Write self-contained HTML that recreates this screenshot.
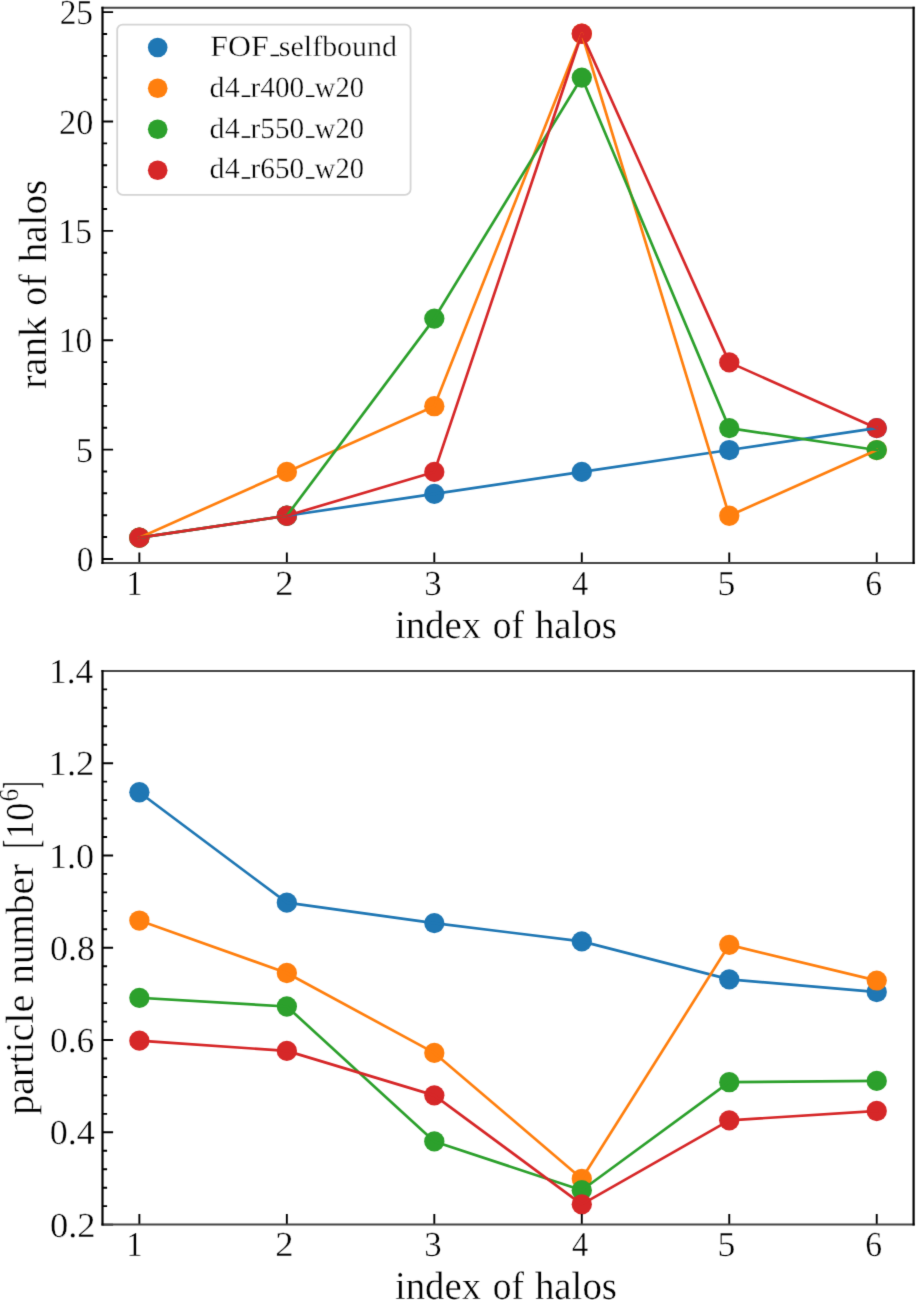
<!DOCTYPE html>
<html><head><meta charset="utf-8"><title>halos</title><style>
html,body{margin:0;padding:0;background:#fff;overflow:hidden;}
svg{display:block;}
text{font-family:"Liberation Serif", serif;font-kerning:none;text-rendering:geometricPrecision;fill:#000;stroke:#fff;stroke-width:0.35px;}
</style></head><body>
<svg width="916" height="1300" viewBox="0 0 916 1300">
<defs><filter id="soft" x="0" y="0" width="916" height="1300" filterUnits="userSpaceOnUse" color-interpolation-filters="sRGB"><feConvolveMatrix order="3" kernelMatrix="0.01134 0.08382 0.01134 0.08382 0.61935 0.08382 0.01134 0.08382 0.01134" edgeMode="duplicate" preserveAlpha="true"/></filter></defs>
<g filter="url(#soft)">
<rect width="916" height="1300" fill="#fff"/>
<circle cx="139.37" cy="537.67" r="10.15" fill="#1f77b4"/>
<circle cx="286.84" cy="515.76" r="10.15" fill="#1f77b4"/>
<circle cx="434.31" cy="493.85" r="10.15" fill="#1f77b4"/>
<circle cx="581.79" cy="471.94" r="10.15" fill="#1f77b4"/>
<circle cx="729.26" cy="450.03" r="10.15" fill="#1f77b4"/>
<circle cx="876.73" cy="428.12" r="10.15" fill="#1f77b4"/>
<circle cx="139.37" cy="537.67" r="10.15" fill="#ff7f0e"/>
<circle cx="286.84" cy="471.94" r="10.15" fill="#ff7f0e"/>
<circle cx="434.31" cy="406.21" r="10.15" fill="#ff7f0e"/>
<circle cx="581.79" cy="33.74" r="10.15" fill="#ff7f0e"/>
<circle cx="729.26" cy="515.76" r="10.15" fill="#ff7f0e"/>
<circle cx="876.73" cy="450.03" r="10.15" fill="#ff7f0e"/>
<circle cx="139.37" cy="537.67" r="10.15" fill="#2ca02c"/>
<circle cx="286.84" cy="515.76" r="10.15" fill="#2ca02c"/>
<circle cx="434.31" cy="318.57" r="10.15" fill="#2ca02c"/>
<circle cx="581.79" cy="77.56" r="10.15" fill="#2ca02c"/>
<circle cx="729.26" cy="428.12" r="10.15" fill="#2ca02c"/>
<circle cx="876.73" cy="450.03" r="10.15" fill="#2ca02c"/>
<circle cx="139.37" cy="537.67" r="10.15" fill="#d62728"/>
<circle cx="286.84" cy="515.76" r="10.15" fill="#d62728"/>
<circle cx="434.31" cy="471.94" r="10.15" fill="#d62728"/>
<circle cx="581.79" cy="33.74" r="10.15" fill="#d62728"/>
<circle cx="729.26" cy="362.39" r="10.15" fill="#d62728"/>
<circle cx="876.73" cy="428.12" r="10.15" fill="#d62728"/>
<polyline points="139.37,537.67 286.84,515.76 434.31,493.85 581.79,471.94 729.26,450.03 876.73,428.12" fill="none" stroke="#1f77b4" stroke-width="2.7" stroke-linejoin="round" stroke-linecap="square"/>
<polyline points="139.37,537.67 286.84,471.94 434.31,406.21 581.79,33.74 729.26,515.76 876.73,450.03" fill="none" stroke="#ff7f0e" stroke-width="2.7" stroke-linejoin="round" stroke-linecap="square"/>
<polyline points="139.37,537.67 286.84,515.76 434.31,318.57 581.79,77.56 729.26,428.12 876.73,450.03" fill="none" stroke="#2ca02c" stroke-width="2.7" stroke-linejoin="round" stroke-linecap="square"/>
<polyline points="139.37,537.67 286.84,515.76 434.31,471.94 581.79,33.74 729.26,362.39 876.73,428.12" fill="none" stroke="#d62728" stroke-width="2.7" stroke-linejoin="round" stroke-linecap="square"/>
<path d="M102.50 558.94H113.10 M102.50 449.58H113.10 M102.50 340.21H113.10 M102.50 230.85H113.10 M102.50 121.48H113.10 M102.50 12.12H113.10 M102.50 537.07H107.10 M102.50 515.19H107.10 M102.50 493.32H107.10 M102.50 471.45H107.10 M102.50 427.70H107.10 M102.50 405.83H107.10 M102.50 383.96H107.10 M102.50 362.08H107.10 M102.50 318.34H107.10 M102.50 296.46H107.10 M102.50 274.59H107.10 M102.50 252.72H107.10 M102.50 208.97H107.10 M102.50 187.10H107.10 M102.50 165.23H107.10 M102.50 143.35H107.10 M102.50 99.61H107.10 M102.50 77.73H107.10 M102.50 55.86H107.10 M102.50 33.99H107.10 M139.37 563.00V552.40 M286.84 563.00V552.40 M434.31 563.00V552.40 M581.79 563.00V552.40 M729.26 563.00V552.40 M876.73 563.00V552.40" stroke="#000" stroke-width="1.9" fill="none"/>
<path d="M101.40 7.65H914.70M101.40 563.00H914.70" stroke="#444" stroke-width="2.0" fill="none"/>
<path d="M102.50 6.65V564.00M913.60 6.65V564.00" stroke="#000" stroke-width="2.2" fill="none"/>
<circle cx="139.37" cy="792.25" r="10.15" fill="#1f77b4"/>
<circle cx="286.84" cy="902.67" r="10.15" fill="#1f77b4"/>
<circle cx="434.31" cy="923.06" r="10.15" fill="#1f77b4"/>
<circle cx="581.79" cy="941.43" r="10.15" fill="#1f77b4"/>
<circle cx="729.26" cy="979.36" r="10.15" fill="#1f77b4"/>
<circle cx="876.73" cy="992.00" r="10.15" fill="#1f77b4"/>
<circle cx="139.37" cy="920.53" r="10.15" fill="#ff7f0e"/>
<circle cx="286.84" cy="972.99" r="10.15" fill="#ff7f0e"/>
<circle cx="434.31" cy="1052.91" r="10.15" fill="#ff7f0e"/>
<circle cx="581.79" cy="1178.78" r="10.15" fill="#ff7f0e"/>
<circle cx="729.26" cy="944.84" r="10.15" fill="#ff7f0e"/>
<circle cx="876.73" cy="980.60" r="10.15" fill="#ff7f0e"/>
<circle cx="139.37" cy="997.81" r="10.15" fill="#2ca02c"/>
<circle cx="286.84" cy="1006.49" r="10.15" fill="#2ca02c"/>
<circle cx="434.31" cy="1141.41" r="10.15" fill="#2ca02c"/>
<circle cx="581.79" cy="1190.27" r="10.15" fill="#2ca02c"/>
<circle cx="729.26" cy="1082.21" r="10.15" fill="#2ca02c"/>
<circle cx="876.73" cy="1080.91" r="10.15" fill="#2ca02c"/>
<circle cx="139.37" cy="1040.68" r="10.15" fill="#d62728"/>
<circle cx="286.84" cy="1050.88" r="10.15" fill="#d62728"/>
<circle cx="434.31" cy="1095.36" r="10.15" fill="#d62728"/>
<circle cx="581.79" cy="1204.30" r="10.15" fill="#d62728"/>
<circle cx="729.26" cy="1120.32" r="10.15" fill="#d62728"/>
<circle cx="876.73" cy="1111.00" r="10.15" fill="#d62728"/>
<polyline points="139.37,792.25 286.84,902.67 434.31,923.06 581.79,941.43 729.26,979.36 876.73,992.00" fill="none" stroke="#1f77b4" stroke-width="2.7" stroke-linejoin="round" stroke-linecap="square"/>
<polyline points="139.37,920.53 286.84,972.99 434.31,1052.91 581.79,1178.78 729.26,944.84 876.73,980.60" fill="none" stroke="#ff7f0e" stroke-width="2.7" stroke-linejoin="round" stroke-linecap="square"/>
<polyline points="139.37,997.81 286.84,1006.49 434.31,1141.41 581.79,1190.27 729.26,1082.21 876.73,1080.91" fill="none" stroke="#2ca02c" stroke-width="2.7" stroke-linejoin="round" stroke-linecap="square"/>
<polyline points="139.37,1040.68 286.84,1050.88 434.31,1095.36 581.79,1204.30 729.26,1120.32 876.73,1111.00" fill="none" stroke="#d62728" stroke-width="2.7" stroke-linejoin="round" stroke-linecap="square"/>
<path d="M102.50 1224.60H113.10 M102.50 1132.32H113.10 M102.50 1040.03H113.10 M102.50 947.75H113.10 M102.50 855.47H113.10 M102.50 763.18H113.10 M102.50 670.90H113.10 M102.50 1206.14H107.10 M102.50 1187.69H107.10 M102.50 1169.23H107.10 M102.50 1150.77H107.10 M102.50 1113.86H107.10 M102.50 1095.40H107.10 M102.50 1076.95H107.10 M102.50 1058.49H107.10 M102.50 1021.58H107.10 M102.50 1003.12H107.10 M102.50 984.66H107.10 M102.50 966.21H107.10 M102.50 929.29H107.10 M102.50 910.84H107.10 M102.50 892.38H107.10 M102.50 873.92H107.10 M102.50 837.01H107.10 M102.50 818.55H107.10 M102.50 800.10H107.10 M102.50 781.64H107.10 M102.50 744.73H107.10 M102.50 726.27H107.10 M102.50 707.81H107.10 M102.50 689.36H107.10 M139.37 1224.60V1214.00 M286.84 1224.60V1214.00 M434.31 1224.60V1214.00 M581.79 1224.60V1214.00 M729.26 1224.60V1214.00 M876.73 1224.60V1214.00" stroke="#000" stroke-width="1.9" fill="none"/>
<path d="M101.40 670.90H914.70M101.40 1224.60H914.70" stroke="#444" stroke-width="2.0" fill="none"/>
<path d="M102.50 669.90V1225.60M913.60 669.90V1225.60" stroke="#000" stroke-width="2.2" fill="none"/>
<rect x="117.2" y="24.6" width="293.4" height="170.2" rx="5.5" ry="5.5" fill="#fff" fill-opacity="0.8" stroke="#d4d4d4" stroke-width="1.8"/>
<circle cx="157.7" cy="47.5" r="9.8" fill="#1f77b4"/>
<circle cx="157.7" cy="88.3" r="9.8" fill="#ff7f0e"/>
<circle cx="157.7" cy="129.2" r="9.8" fill="#2ca02c"/>
<circle cx="157.7" cy="170.2" r="9.8" fill="#d62728"/>
<rect x="270.60" y="54.70" width="8.50" height="1.5" fill="#000"/>
<rect x="241.70" y="95.50" width="8.60" height="1.5" fill="#000"/>
<rect x="241.70" y="136.30" width="8.60" height="1.5" fill="#000"/>
<rect x="241.70" y="177.20" width="8.60" height="1.5" fill="#000"/>
<rect x="305.90" y="95.50" width="8.50" height="1.5" fill="#000"/>
<rect x="305.90" y="136.30" width="8.50" height="1.5" fill="#000"/>
<rect x="305.90" y="177.20" width="8.50" height="1.5" fill="#000"/>
<text transform="translate(76.82,571.04) scale(0.9573,1.0000)" font-size="35.0">0</text>
<text transform="translate(76.12,461.68) scale(0.9717,1.0000)" font-size="35.0">5</text>
<text transform="translate(58.65,352.31) scale(0.9578,1.0000)" font-size="35.0">10</text>
<text transform="translate(58.35,242.95) scale(0.9589,1.0000)" font-size="35.0">15</text>
<text transform="translate(59.09,133.58) scale(0.9804,1.0000)" font-size="35.0">20</text>
<text transform="translate(59.63,24.22) scale(0.9565,1.0000)" font-size="35.0">25</text>
<text transform="translate(49.91,1236.70) scale(1.0448,1.0000)" font-size="35.0">0.2</text>
<text transform="translate(49.72,1144.42) scale(1.0318,1.0000)" font-size="35.0">0.4</text>
<text transform="translate(49.95,1052.13) scale(1.0151,1.0000)" font-size="35.0">0.6</text>
<text transform="translate(49.93,959.85) scale(1.0296,1.0000)" font-size="35.0">0.8</text>
<text transform="translate(48.92,867.57) scale(1.0345,1.0000)" font-size="35.0">1.0</text>
<text transform="translate(48.58,775.28) scale(1.0479,1.0000)" font-size="35.0">1.2</text>
<text transform="translate(49.10,683.00) scale(1.0093,1.0000)" font-size="35.0">1.4</text>
<text transform="translate(126.33,594.70) scale(0.9333,1.0000)" font-size="35.0">1</text>
<text transform="translate(275.19,594.70) scale(1.0477,1.0000)" font-size="35.0">2</text>
<text transform="translate(424.13,594.70) scale(0.9960,1.0000)" font-size="35.0">3</text>
<text transform="translate(572.07,594.70) scale(0.9281,1.0000)" font-size="35.0">4</text>
<text transform="translate(717.62,594.70) scale(1.0213,1.0000)" font-size="35.0">5</text>
<text transform="translate(865.15,594.70) scale(0.9630,1.0000)" font-size="35.0">6</text>
<text transform="translate(126.33,1256.30) scale(0.9333,1.0000)" font-size="35.0">1</text>
<text transform="translate(275.19,1256.30) scale(1.0477,1.0000)" font-size="35.0">2</text>
<text transform="translate(424.13,1256.30) scale(0.9960,1.0000)" font-size="35.0">3</text>
<text transform="translate(572.07,1256.30) scale(0.9281,1.0000)" font-size="35.0">4</text>
<text transform="translate(717.62,1256.30) scale(1.0213,1.0000)" font-size="35.0">5</text>
<text transform="translate(865.15,1256.30) scale(0.9630,1.0000)" font-size="35.0">6</text>
<text transform="translate(394.88,637.60) scale(0.9833,1.0000)" font-size="39.5">index</text>
<text transform="translate(492.67,637.60) scale(0.9491,1.0000)" font-size="39.5">of</text>
<text transform="translate(534.92,637.60) scale(0.9845,1.0000)" font-size="39.5">halos</text>
<text transform="translate(394.88,1299.20) scale(0.9833,1.0000)" font-size="39.5">index</text>
<text transform="translate(492.67,1299.20) scale(0.9491,1.0000)" font-size="39.5">of</text>
<text transform="translate(534.92,1299.20) scale(0.9845,1.0000)" font-size="39.5">halos</text>
<text transform="rotate(-90) translate(-389.12,46.40) scale(1.0347,1.0000)" font-size="39.5">rank</text>
<text transform="rotate(-90) translate(-305.64,46.40) scale(0.9554,1.0000)" font-size="39.5">of</text>
<text transform="rotate(-90) translate(-262.28,46.40) scale(0.9894,1.0000)" font-size="39.5">halos</text>
<text transform="rotate(-90) translate(-1115.05,32.60) scale(1.0153,1.0000)" font-size="39.5">particle</text>
<text transform="rotate(-90) translate(-983.70,32.60) scale(0.9916,1.0000)" font-size="39.5">number</text>
<text transform="rotate(-90) translate(-838.99,32.60) scale(0.9182,1.0000)" font-size="39.5">10</text>
<text transform="rotate(-90) translate(-801.40,18.00) scale(0.9277,1.0000)" font-size="27.5">6</text>
<text transform="rotate(-90) translate(-848.43,37.12) scale(0.6595,1.2450)" font-size="39.5">[</text>
<text transform="rotate(-90) translate(-788.80,37.12) scale(0.5571,1.2450)" font-size="39.5">]</text>
<g class="leg">
<text transform="translate(210.28,55.90) scale(1.0878,1.0000)" font-size="29.3">FOF</text>
<text transform="translate(278.87,55.90) scale(1.0228,1.0000)" font-size="29.3">selfbound</text>
<text transform="translate(209.61,96.70) scale(1.0258,1.0000)" font-size="29.3">d4</text>
<text transform="translate(250.51,96.70) scale(0.9999,1.0000)" font-size="29.3">r400</text>
<text transform="translate(314.87,96.70) scale(0.9713,1.0000)" font-size="29.3">w20</text>
<text transform="translate(209.61,137.50) scale(1.0258,1.0000)" font-size="29.3">d4</text>
<text transform="translate(250.51,137.50) scale(0.9999,1.0000)" font-size="29.3">r550</text>
<text transform="translate(314.87,137.50) scale(0.9713,1.0000)" font-size="29.3">w20</text>
<text transform="translate(209.61,178.40) scale(1.0258,1.0000)" font-size="29.3">d4</text>
<text transform="translate(250.51,178.40) scale(0.9999,1.0000)" font-size="29.3">r650</text>
<text transform="translate(314.87,178.40) scale(0.9713,1.0000)" font-size="29.3">w20</text>
</g>
</g>
</svg>
</body></html>
